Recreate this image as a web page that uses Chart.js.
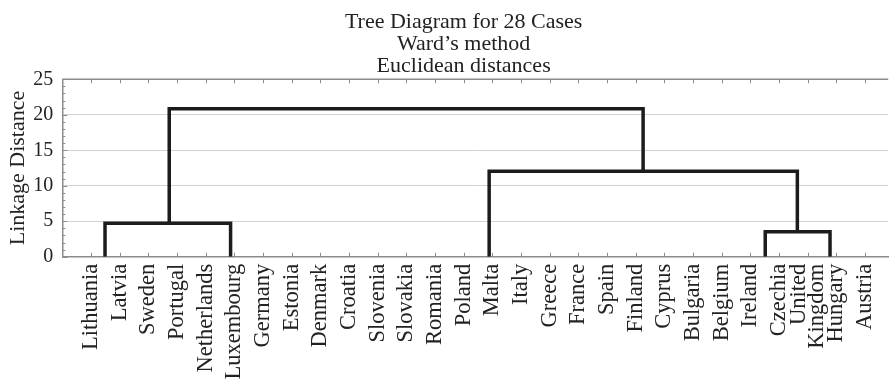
<!DOCTYPE html>
<html>
<head>
<meta charset="utf-8">
<script src="https://cdn.jsdelivr.net/npm/chart.js@4.4.1/dist/chart.umd.min.js"></script>
<style>
  html, body { margin: 0; padding: 0; background: #fff; }
</style>
</head>
<body>
<canvas id="tree" width="890" height="380"></canvas>
<script>
const caseNames = ['Lithuania', 'Latvia', 'Sweden', 'Portugal', 'Netherlands', 'Luxembourg',
    'Germany', 'Estonia', 'Denmark', 'Croatia', 'Slovenia', 'Slovakia', 'Romania', 'Poland',
    'Malta', 'Italy', 'Greece', 'France', 'Spain', 'Finland', 'Cyprus', 'Bulgaria', 'Belgium',
    'Ireland', 'Czechia', ['United', 'Kingdom'], 'Hungary', 'Austria'];

// one entry per merge drawn in the tree (position on the case axis, heights in linkage distance)
const mergeLeftPos   = [0.49, 23.52, 13.89, 2.73];
const mergeRightPos  = [4.87, 25.78, 24.64, 19.26];
const mergeLeftBase  = [0, 0, 0, 4.7];
const mergeRightBase = [0, 0, 3.5, 12.05];
const mergeHeight    = [4.7, 3.5, 12.05, 20.85];

const yTickValues = [0, 5, 10, 15, 20, 25];
const titleLines = ['Tree Diagram for 28 Cases', 'Ward\u2019s method', 'Euclidean distances'];
const yTitle = 'Linkage Distance';

const serif = "'Liberation Serif', 'Times New Roman', serif";
const axisGrey = '#8c8c8c';

const datasets = mergeHeight.map(function(h, i) {
    return {
        data: [
            { x: mergeLeftPos[i], y: mergeLeftBase[i] },
            { x: mergeLeftPos[i], y: h },
            { x: mergeRightPos[i], y: h },
            { x: mergeRightPos[i], y: mergeRightBase[i] }
        ],
        borderColor: '#1c1c1c',
        borderWidth: 3.5,
        pointRadius: 0,
        tension: 0,
        fill: false
    };
});

// inward tick marks on the frame, top border, two-line label centring, title
const frameTicks = {
    id: 'frameTicks',
    beforeDraw(chart) {
        const x = chart.scales.x;
        const lh = x.options.ticks.font.size * x.options.ticks.font.lineHeight;
        x.getLabelItems().forEach(function(item) {
            if (Array.isArray(item.label)) {
                item.textOffset -= (item.label.length - 1) * lh / 2;
            }
        });
    },
    beforeDatasetsDraw(chart) {
        const { ctx, chartArea } = chart;
        const x = chart.scales.x, y = chart.scales.y;
        ctx.save();
        ctx.strokeStyle = axisGrey;
        ctx.lineWidth = 1.5;
        ctx.beginPath();
        ctx.moveTo(chartArea.left, chartArea.top);
        ctx.lineTo(chartArea.right, chartArea.top);
        ctx.stroke();

        ctx.lineWidth = 1;
        ctx.beginPath();
        caseNames.forEach(function(name, i) {
            const px = Math.round(x.getPixelForValue(i)) + 0.5;
            ctx.moveTo(px, chartArea.bottom);
            ctx.lineTo(px, chartArea.bottom - 4);
            ctx.moveTo(px, chartArea.top);
            ctx.lineTo(px, chartArea.top + 4);
        });
        for (let v = y.min; v <= y.max; v++) {
            const py = Math.round(y.getPixelForValue(v)) + 0.5;
            const len = v % 5 === 0 ? 5 : 3;
            ctx.moveTo(chartArea.left, py);
            ctx.lineTo(chartArea.left + len, py);
        }
        ctx.stroke();
        ctx.restore();
    },
    afterDraw(chart) {
        // title centred between the left frame and the last case
        const { ctx, chartArea } = chart;
        const x = chart.scales.x;
        const cx = (chartArea.left + x.getPixelForValue(caseNames.length - 1)) / 2;
        ctx.save();
        ctx.font = '22px ' + serif;
        ctx.fillStyle = '#222';
        ctx.textAlign = 'center';
        ctx.textBaseline = 'alphabetic';
        titleLines.forEach(function(line, i) {
            ctx.fillText(line, cx, 27.5 + i * 22.2);
        });
        ctx.restore();
    }
};

new Chart(document.getElementById('tree'), {
    type: 'line',
    data: { datasets: datasets },
    options: {
        responsive: false,
        animation: false,
        events: [],
        layout: { padding: { top: 79.3, left: 0, right: 0, bottom: 0 } },
        plugins: {
            legend: { display: false },
            tooltip: { enabled: false },
            title: { display: false }
        },
        scales: {
            x: {
                type: 'linear',
                min: -1,
                max: 27.81,
                grid: { display: false, drawTicks: false },
                border: { display: true, color: axisGrey, width: 1.5 },
                ticks: {
                    stepSize: 1,
                    autoSkip: false,
                    includeBounds: false,
                    minRotation: 90,
                    maxRotation: 90,
                    padding: 7,
                    color: '#222',
                    font: { family: serif, size: 22.5, lineHeight: 0.8 },
                    callback: function(value) {
                        return Number.isInteger(value) && value >= 0 && value < caseNames.length
                            ? caseNames[value] : '';
                    }
                },
                afterFit: function(scale) { scale.height = 123.3; }
            },
            y: {
                min: 0,
                max: 25,
                afterBuildTicks: function(scale) {
                    scale.ticks = yTickValues.map(function(v) { return { value: v }; });
                },
                grid: {
                    drawTicks: false,
                    lineWidth: 1,
                    color: function(ctx) {
                        const v = ctx.tick ? ctx.tick.value : 0;
                        return (v === 0 || v === 25) ? 'rgba(0,0,0,0)' : '#d2d2d2';
                    }
                },
                border: { display: true, color: axisGrey, width: 1.5 },
                ticks: {
                    padding: 9,
                    color: '#222',
                    font: { family: serif, size: 20 }
                },
                title: {
                    display: true,
                    text: yTitle,
                    color: '#222',
                    font: { family: serif, size: 22 },
                    padding: { top: 5, bottom: 0 }
                },
                afterFit: function(scale) { scale.width = 62.3; }
            }
        }
    },
    plugins: [frameTicks]
});
</script>
</body>
</html>
